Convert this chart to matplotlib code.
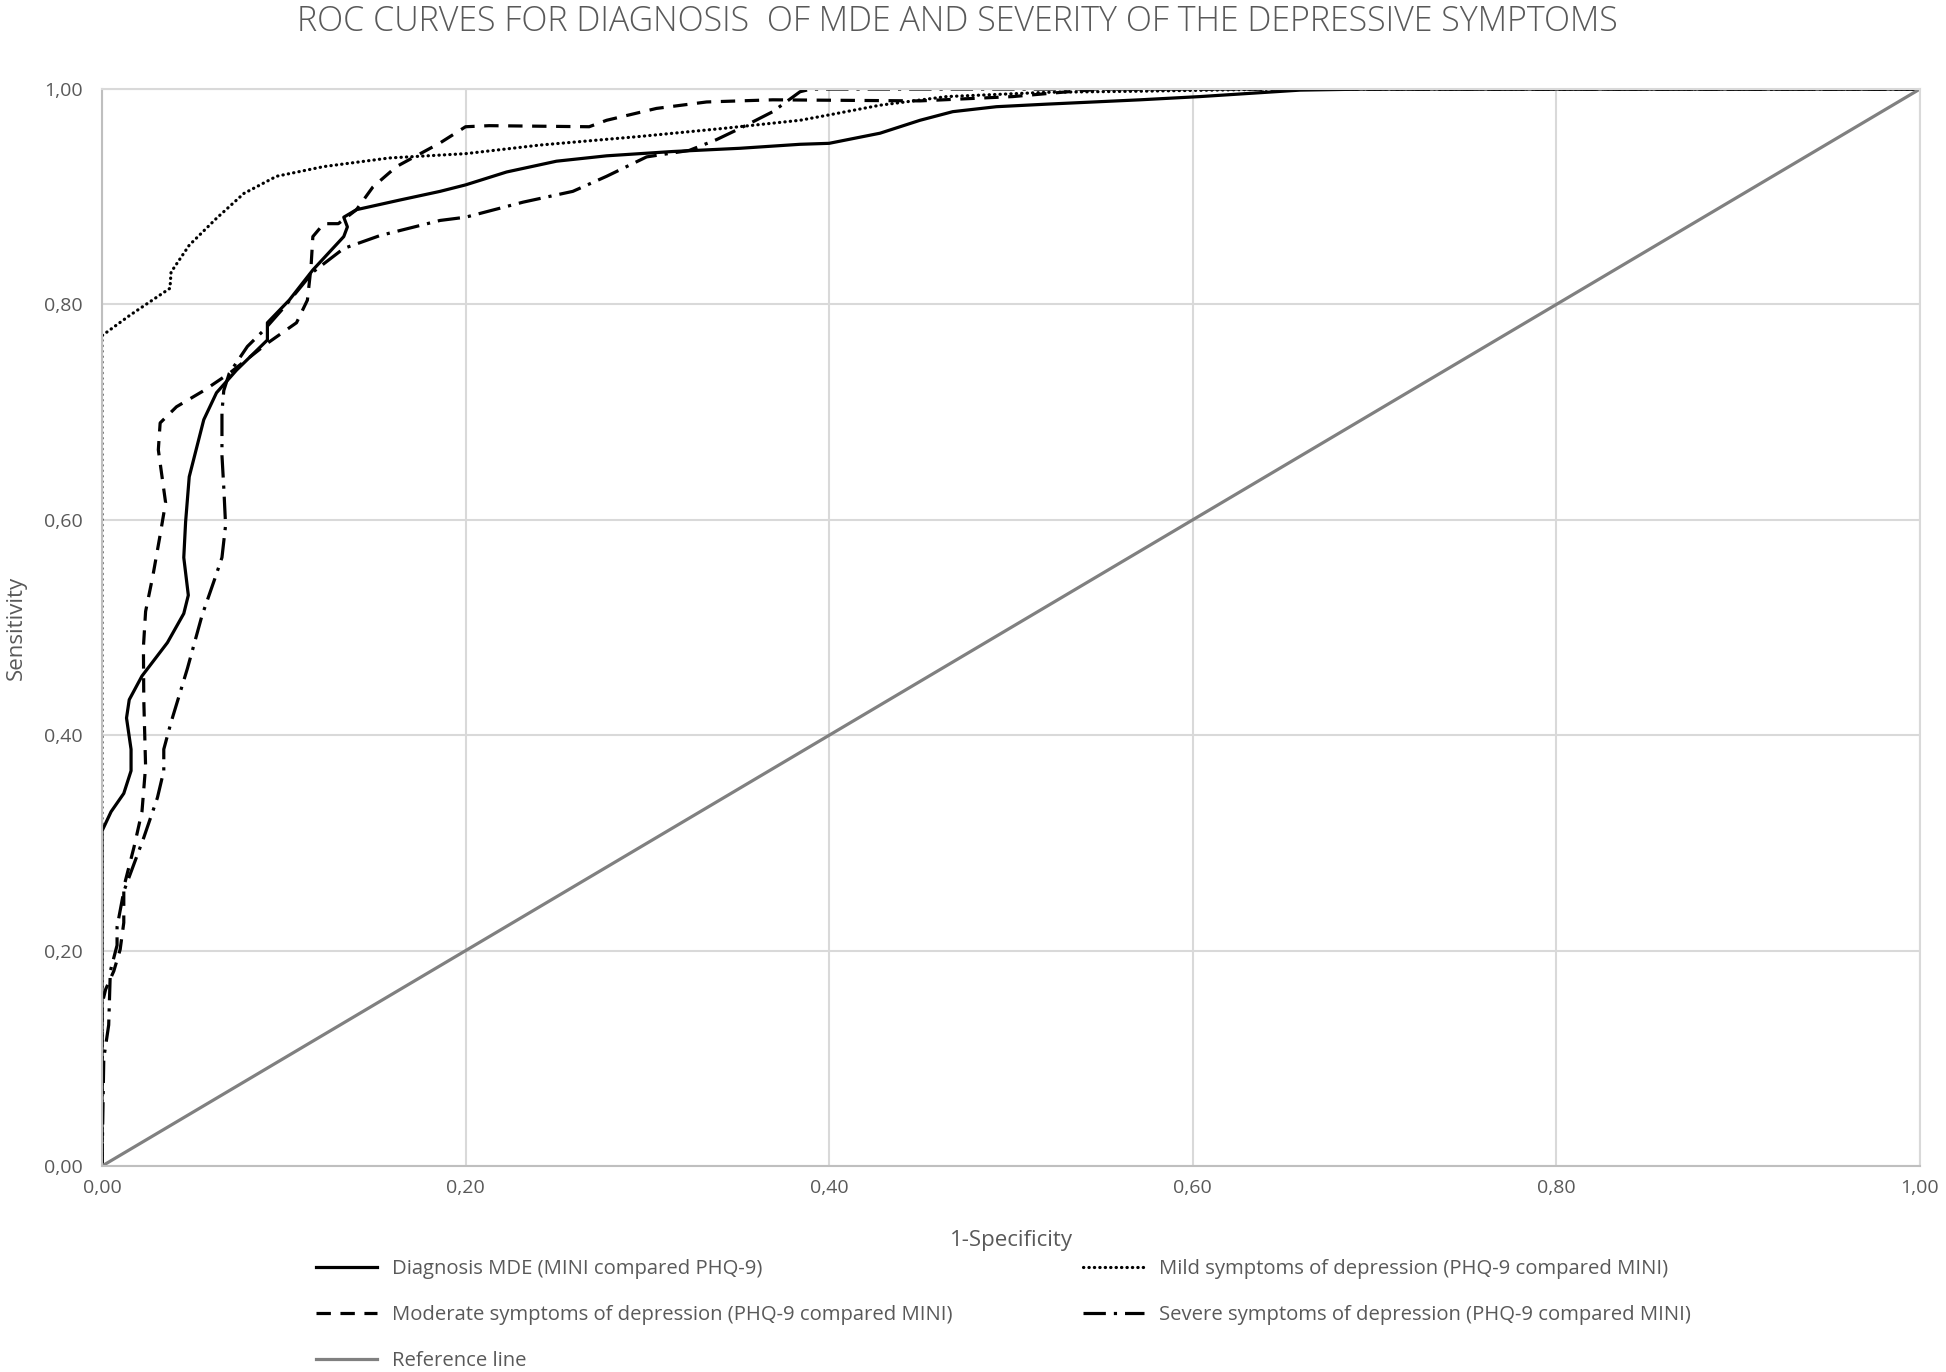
import matplotlib
matplotlib.use("Agg")
import matplotlib.pyplot as plt
import numpy as np

plt.rcParams['font.family'] = ['Open Sans', 'DejaVu Sans']

# curves: (1-specificity, sensitivity)
diagnosis = [(0, 0), (0, 0.311), (0.005, 0.329), (0.012, 0.346), (0.016, 0.367), (0.016, 0.387),
             (0.0135, 0.416), (0.015, 0.433), (0.022, 0.455), (0.036, 0.486), (0.045, 0.513),
             (0.0475, 0.530), (0.045, 0.565), (0.046, 0.598), (0.048, 0.640), (0.056, 0.693),
             (0.063, 0.718), (0.074, 0.739), (0.091, 0.767), (0.091, 0.783), (0.103, 0.804),
             (0.116, 0.832), (0.133, 0.863), (0.135, 0.872), (0.133, 0.881), (0.140, 0.888),
             (0.164, 0.897), (0.186, 0.905), (0.200, 0.911), (0.2226, 0.923), (0.250, 0.933),
             (0.2776, 0.938), (0.314, 0.942), (0.351, 0.945), (0.384, 0.9487), (0.400, 0.9496),
             (0.428, 0.959), (0.450, 0.971), (0.468, 0.979), (0.492, 0.9836), (0.520, 0.986),
             (0.571, 0.990), (0.604, 0.993), (0.659, 0.999), (0.696, 1.0), (1.0, 1.0)]

mild = [(0, 0), (0, 0.771), (0.0154, 0.790), (0.0374, 0.815), (0.038, 0.830), (0.048, 0.855),
        (0.063, 0.880), (0.078, 0.903), (0.096, 0.919), (0.122, 0.928), (0.158, 0.936),
        (0.200, 0.940), (0.241, 0.948), (0.296, 0.956), (0.342, 0.9635), (0.384, 0.971),
        (0.400, 0.976), (0.428, 0.985), (0.4646, 0.993), (0.520, 0.997), (0.571, 0.998),
        (0.65, 1.0), (1.0, 1.0)]

moderate = [(0, 0), (0, 0.15), (0.002, 0.164), (0.0065, 0.181), (0.010, 0.201), (0.012, 0.226),
            (0.012, 0.259), (0.0176, 0.296), (0.022, 0.329), (0.024, 0.371), (0.023, 0.433),
            (0.0228, 0.482), (0.024, 0.515), (0.028, 0.548), (0.032, 0.586), (0.035, 0.616),
            (0.031, 0.665), (0.032, 0.690), (0.041, 0.705), (0.056, 0.720), (0.070, 0.736),
            (0.091, 0.764), (0.107, 0.783), (0.113, 0.804), (0.115, 0.835), (0.116, 0.863),
            (0.122, 0.875), (0.130, 0.875), (0.140, 0.888), (0.149, 0.909), (0.162, 0.928),
            (0.186, 0.950), (0.200, 0.965), (0.213, 0.966), (0.268, 0.965), (0.2776, 0.971),
            (0.305, 0.982), (0.3326, 0.988), (0.369, 0.990), (0.45, 0.989), (0.501, 0.993),
            (0.528, 0.997), (0.55, 1.0), (1.0, 1.0)]

severe = [(0, 0), (0.001, 0.10), (0.0037, 0.131), (0.0046, 0.181), (0.0083, 0.205),
          (0.0083, 0.222), (0.012, 0.255), (0.023, 0.305), (0.0305, 0.342), (0.034, 0.367),
          (0.034, 0.387), (0.038, 0.412), (0.047, 0.462), (0.055, 0.511), (0.062, 0.545),
          (0.066, 0.565), (0.068, 0.595), (0.067, 0.630), (0.066, 0.660), (0.066, 0.700),
          (0.067, 0.720), (0.070, 0.736), (0.080, 0.761), (0.089, 0.776), (0.100, 0.797),
          (0.116, 0.830), (0.133, 0.852), (0.153, 0.864), (0.186, 0.878), (0.200, 0.881),
          (0.2317, 0.895), (0.259, 0.905), (0.2776, 0.919), (0.2996, 0.937), (0.323, 0.943),
          (0.338, 0.953), (0.351, 0.9635), (0.369, 0.979), (0.384, 0.9975), (0.39, 1.0),
          (1.0, 1.0)]

reference = [(0, 0), (1, 1)]

labels = ['Diagnosis MDE (MINI compared PHQ-9)',
          'Mild symptoms of depression (PHQ-9 compared MINI)',
          'Moderate symptoms of depression (PHQ-9 compared MINI)',
          'Severe symptoms of depression (PHQ-9 compared MINI)',
          'Reference line']
ticks = [0, 0.2, 0.4, 0.6, 0.8, 1.0]

txt = '#595959'
fig = plt.figure(figsize=(19.46, 13.72), dpi=100)
ax = fig.add_axes([0.0524, 0.1501, 0.9342, 0.785])

def xy(pts):
    a = np.array(pts)
    return a[:, 0], a[:, 1]

lw = 2.3
h_diag, = ax.plot(*xy(diagnosis), color='black', lw=lw, solid_joinstyle='round')
h_mild, = ax.plot(*xy(mild), color='black', lw=lw, linestyle=(0, (0.1, 1.6)),
                  dash_capstyle='round')
h_mod, = ax.plot(*xy(moderate), color='black', lw=lw, linestyle=(0, (4.5, 3)))
h_sev, = ax.plot(*xy(severe), color='black', lw=lw, linestyle=(0, (7, 2.5, 1, 2.5)))
h_ref, = ax.plot(*xy(reference), color='#808080', lw=lw)

ax.set_xlim(0, 1)
ax.set_ylim(0, 1)
ax.set_xticks(ticks)
ax.set_yticks(ticks)
fmt = [f"{t:.2f}".replace('.', ',') for t in ticks]
ax.set_xticklabels(fmt)
ax.set_yticklabels(fmt)
ax.tick_params(length=0, labelsize=14, labelcolor=txt)
ax.tick_params(axis='y', pad=14)
ax.tick_params(axis='x', pad=9)
ax.grid(True, color='#d9d9d9', lw=1.5)
ax.set_axisbelow(True)
for s in ax.spines.values():
    s.set_color('#d9d9d9')
    s.set_linewidth(1.5)
ax.spines['left'].set_color('#bfbfbf')
ax.spines['bottom'].set_color('#bfbfbf')

ax.set_xlabel('1-Specificity', fontsize=16, color=txt, labelpad=24)
ax.set_ylabel('Sensitivity', fontsize=16, color=txt, labelpad=12)
fig.text(0.492, 0.984, 'ROC CURVES FOR DIAGNOSIS  OF MDE AND SEVERITY OF THE DEPRESSIVE SYMPTOMS',
         ha='center', va='center', fontsize=24.5, color=txt, fontweight='light')

kw = dict(frameon=False, fontsize=14.6, labelcolor=txt, handlelength=3.0, handletextpad=0.75,
          labelspacing=1.28, borderpad=0, borderaxespad=0, loc='upper left')
fig.legend([h_diag, h_mod, h_ref], [labels[0], labels[2], labels[4]],
           bbox_to_anchor=(316 / 1946, 0.0822), **kw)
fig.legend([h_mild, h_sev], [labels[1], labels[3]],
           bbox_to_anchor=(1083 / 1946, 0.0822), **kw)

fig.savefig('out.png', dpi=100)
